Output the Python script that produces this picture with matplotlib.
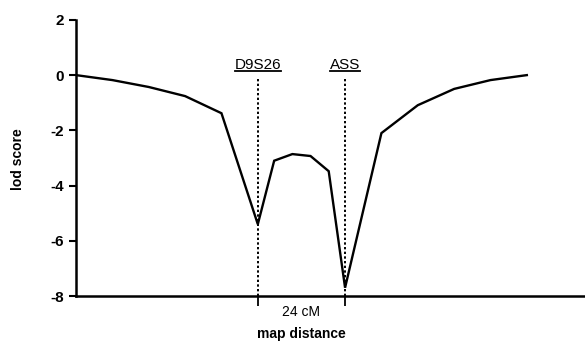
import matplotlib
matplotlib.use("Agg")
import matplotlib.pyplot as plt
from matplotlib.lines import Line2D

plt.rcParams['font.family'] = ['Liberation Sans', 'DejaVu Sans']

# map distance (cM, D9S26 at 0) and lod score
distance = [-50, -40, -30, -20, -10, 0, 4.5, 9.5, 14.5, 19.5, 24, 34, 44, 54, 64, 74]
lod = [0, -0.18, -0.43, -0.76, -1.38, -5.4, -3.1, -2.86, -2.93, -3.48, -7.7,
       -2.1, -1.09, -0.5, -0.18, 0]
markers = ['D9S26', 'ASS']
marker_pos = [0, 24]
yticks = [2, 0, -2, -4, -6, -8]

fig = plt.figure(figsize=(5.85, 3.43), dpi=100)
ax = fig.add_axes([0.130, 0.137, 0.870, 0.805])

ax.plot(distance, lod, color='black', lw=1.7, solid_joinstyle='miter')

for name, pos in zip(markers, marker_pos):
    ax.plot([pos, pos], [-8, -0.15], color='black', lw=1.4, ls=(0, (1.2, 1.2)))

ax.set_xlim(-50, 90)
ax.set_ylim(-8, 2)
ax.set_yticks(yticks)
ax.set_yticklabels([str(t) for t in yticks], fontweight='bold', fontsize=11)
ax.set_xticks(marker_pos)
ax.set_xticklabels([])
ax.tick_params(axis='y', direction='out', length=5, width=1.5, pad=4)
ax.tick_params(axis='x', direction='out', length=7, width=1.3)
for s in ['top', 'right']:
    ax.spines[s].set_visible(False)
for s in ['left', 'bottom']:
    ax.spines[s].set_linewidth(1.8)

ax.text(sum(marker_pos) / 2, -0.058, '24 cM', transform=ax.get_xaxis_transform(),
        ha='center', va='center', fontsize=10)
fig.text(0.130 + 0.870 * (sum(marker_pos) / 2 + 50) / 140, 0.026, 'map distance',
         ha='center', va='center', fontweight='bold', fontsize=10)
fig.text(0.031, 0.535, 'lod score', rotation=90, ha='center', va='center',
         fontweight='bold', fontsize=10)

labels = []
for name, pos in zip(markers, marker_pos):
    labels.append(ax.text(pos, 0.12, name, ha='center', va='bottom', fontsize=11))

# underline marker names
fig.canvas.draw()
inv = fig.transFigure.inverted()
for t in labels:
    bb = t.get_window_extent()
    (x0, y0), (x1, y1) = inv.transform([(bb.x0, bb.y0 + 1), (bb.x1, bb.y0 + 1)])
    fig.add_artist(Line2D([x0, x1], [y0, y1], color='black', lw=1.3))

fig.savefig('out.png', dpi=100)
